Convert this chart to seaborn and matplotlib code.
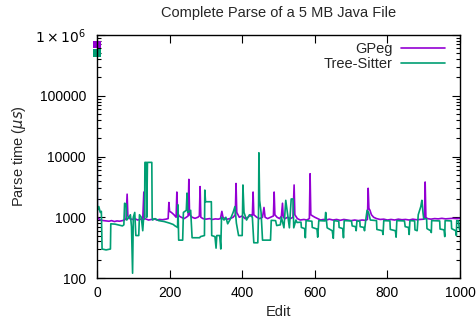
import matplotlib
matplotlib.use("Agg")
import matplotlib.pyplot as plt
import numpy as np
import pandas as pd
import seaborn as sns
from matplotlib.ticker import FixedLocator, FuncFormatter, MultipleLocator, LogLocator, NullFormatter

# ---------------- data ----------------
gpeg_edit = [0, 1, 4, 10, 18, 25, 33, 40, 48, 55,
             62, 70, 76, 80, 83, 85, 90, 97, 104, 112,
             120, 126, 129, 131, 136, 142, 150, 158, 165, 172,
             180, 190, 196, 198, 200, 205, 212, 218, 220, 222,
             226, 232, 240, 246, 251, 253, 255, 262, 270, 278,
             282, 284, 286, 292, 300, 310, 318, 326, 334, 340,
             344, 347, 352, 360, 368, 375, 381, 383, 385, 392,
             400, 408, 416, 424, 428, 430, 432, 440, 448, 456,
             460, 463, 470, 478, 486, 488, 490, 496, 503, 508,
             511, 513, 518, 525, 533, 540, 543, 545, 552, 560,
             570, 578, 585, 587, 589, 594, 600, 608, 616, 624,
             632, 640, 650, 660, 670, 680, 690, 700, 710, 720,
             730, 740, 745, 747, 749, 752, 756, 762, 770, 780,
             790, 800, 810, 820, 830, 840, 850, 860, 870, 880,
             890, 900, 902, 904, 906, 910, 920, 930, 940, 950,
             960, 970, 980, 990, 1000]
gpeg_us = [700000, 1000, 950, 900, 880, 870, 860, 880, 850, 870,
           860, 880, 900, 950, 2400, 1050, 950, 920, 950, 900,
           930, 900, 2600, 950, 930, 900, 920, 940, 900, 920,
           910, 930, 950, 1750, 1250, 1200, 1100, 1000, 2600, 1200,
           1050, 1000, 950, 1000, 1050, 4200, 1100, 1000, 960, 1000,
           1050, 3200, 1000, 950, 930, 950, 920, 940, 930, 950,
           1250, 1000, 950, 930, 960, 1000, 1100, 3600, 1200, 1000,
           1050, 950, 1000, 1100, 1050, 2600, 1100, 1000, 950, 1000,
           1450, 1000, 950, 1000, 1050, 2600, 1100, 1000, 950, 1050,
           1700, 1000, 950, 1000, 950, 1000, 3400, 1100, 950, 900,
           920, 900, 950, 5200, 1100, 1050, 1000, 950, 900, 920,
           900, 930, 900, 920, 890, 920, 900, 880, 900, 880,
           900, 890, 920, 3000, 1400, 1300, 1100, 1000, 950, 920,
           930, 900, 920, 900, 930, 910, 920, 900, 930, 910,
           920, 930, 950, 3800, 1000, 950, 930, 950, 940, 960,
           940, 950, 960, 950, 960]

ts_edit = [0, 1, 5, 9, 12, 14, 25, 37, 38, 50,
           62, 70, 74, 76, 80, 82, 88, 92, 95, 98,
           100, 104, 107, 115, 117, 122, 126, 128, 131, 132,
           136, 137, 139, 151, 152, 153, 160, 170, 185, 200,
           210, 215, 222, 223, 225, 236, 238, 246, 248, 250,
           258, 262, 283, 285, 296, 297, 299, 315, 316, 325,
           328, 330, 338, 341, 343, 350, 355, 360, 368, 375,
           380, 384, 390, 400, 402, 405, 412, 420, 428, 432,
           443, 445, 446, 448, 452, 456, 478, 480, 492, 495,
           505, 508, 515, 520, 526, 530, 535, 540, 542, 548,
           551, 562, 563, 572, 574, 576, 592, 593, 606, 608,
           611, 628, 630, 634, 648, 651, 653, 666, 667, 677,
           679, 681, 701, 703, 712, 714, 716, 724, 725, 735,
           737, 740, 744, 748, 753, 770, 771, 786, 788, 790,
           807, 808, 822, 824, 826, 847, 849, 858, 860, 862,
           875, 876, 882, 885, 892, 895, 898, 900, 908, 909,
           919, 921, 922, 944, 945, 956, 958, 959, 976, 977,
           988, 990, 991, 996, 998, 1000]
ts_us = [500000, 1300, 1500, 1200, 1250, 300, 290, 300, 780, 770,
         740, 720, 750, 1700, 1650, 900, 1000, 1100, 700, 120,
         1000, 1200, 500, 500, 1100, 1000, 600, 900, 950, 8000,
         8000, 1000, 8000, 8000, 1000, 900, 950, 880, 850, 800,
         760, 720, 680, 1600, 420, 420, 1200, 1300, 2500, 1200,
         1300, 460, 460, 480, 500, 2800, 1800, 1800, 500, 480,
         310, 500, 500, 300, 1000, 900, 1000, 780, 950, 1200,
         1500, 800, 500, 500, 3400, 1200, 900, 1100, 1000, 380,
         380, 1200, 11500, 1900, 1200, 420, 420, 890, 880, 730,
         750, 1000, 670, 1900, 1000, 670, 2000, 2000, 670, 900,
         820, 830, 680, 650, 460, 880, 860, 680, 640, 470,
         880, 870, 1200, 670, 600, 450, 880, 860, 680, 650,
         460, 880, 870, 720, 700, 600, 870, 860, 700, 680,
         600, 870, 1300, 1200, 900, 880, 630, 600, 520, 880,
         870, 630, 600, 470, 880, 870, 700, 680, 520, 880,
         870, 620, 600, 1100, 1500, 1900, 1200, 950, 940, 650,
         600, 560, 880, 870, 640, 620, 480, 880, 870, 650,
         600, 500, 880, 870, 650, 600]

series_names = ["GPeg", "Tree-Sitter"]
colors = {"GPeg": "#9400d3", "Tree-Sitter": "#009e73"}
y_ticks = [100, 1000, 10000, 100000, 1000000]
y_tick_labels = ["100", "1000", "10000", "100000", r"$1\times10^{6}$"]
x_ticks = [0, 200, 400, 600, 800, 1000]

df = pd.concat([
    pd.DataFrame({"Edit": gpeg_edit, "Parse time": gpeg_us, "Parser": "GPeg"}),
    pd.DataFrame({"Edit": ts_edit, "Parse time": ts_us, "Parser": "Tree-Sitter"}),
], ignore_index=True)
first = df[df["Edit"] == 0]

# ---------------- figure ----------------
sns.set_theme(style="ticks")
plt.rcParams['font.family'] = ['Liberation Sans', 'DejaVu Sans']
plt.rcParams['mathtext.fontset'] = 'dejavusans'

fig = plt.figure(figsize=(4.77, 3.2), dpi=100)
ax = fig.add_axes([97 / 477, 1 - 278 / 320, (460 - 97) / 477, (278 - 35) / 320])

sns.lineplot(data=df, x="Edit", y="Parse time", hue="Parser", hue_order=series_names,
             palette=colors, estimator=None, sort=False, linewidth=1.2, ax=ax)
sns.scatterplot(data=first, x="Edit", y="Parse time", hue="Parser", hue_order=series_names,
                palette=colors, marker="s", s=30, linewidth=0, legend=False, ax=ax, clip_on=False)

ax.set_yscale("log")
ax.set_xlim(0, 1000)
ax.set_ylim(100, 1e6)

ax.xaxis.set_major_locator(FixedLocator(x_ticks))
ax.yaxis.set_major_locator(FixedLocator(y_ticks))
ax.yaxis.set_major_formatter(FuncFormatter(lambda v, p: dict(zip(y_ticks, y_tick_labels)).get(int(round(v)), "")))
ax.yaxis.set_minor_locator(LogLocator(base=10, subs=np.arange(2, 10)))
ax.yaxis.set_minor_formatter(NullFormatter())

ax.tick_params(which="both", direction="in", top=True, right=True, colors="black",
               labelsize=10, width=0.8)
ax.tick_params(which="major", length=6)
ax.tick_params(which="minor", length=3)
ax.tick_params(axis="y", pad=8)
ax.tick_params(axis="x", pad=6)
for sp in ax.spines.values():
    sp.set_visible(True)
    sp.set_color("black")
    sp.set_linewidth(1.0)

ax.set_xlabel("Edit", fontsize=10.5)
ax.set_ylabel(r"Parse time ($\mu s$)", fontsize=10.5)
ax.xaxis.set_label_coords(0.5, -0.11)
ax.yaxis.set_label_coords(-0.19, 0.5)
ax.set_title("Complete Parse of a 5 MB Java File", fontsize=10.5, pad=13)

handles, labels = ax.get_legend_handles_labels()
leg = ax.legend(handles, labels, loc="upper right", frameon=False, markerfirst=False,
                handlelength=3.0, handletextpad=0.6, labelspacing=0.05, fontsize=10.5,
                borderaxespad=0, bbox_to_anchor=(0.975, 0.995))

fig.savefig("out.png", dpi=100)
